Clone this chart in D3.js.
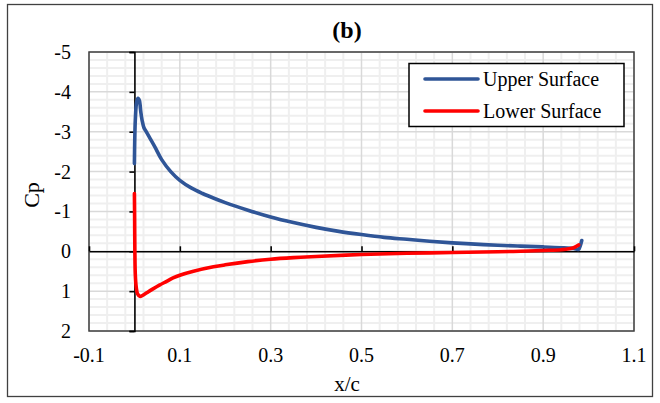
<!DOCTYPE html>
<html>
<head>
<meta charset="utf-8">
<script src="https://cdn.jsdelivr.net/npm/d3@7"></script>
<style>
  html, body { margin: 0; padding: 0; background: #fff; }
  svg { display: block; font-family: "Liberation Serif", "Times New Roman", serif; }
</style>
</head>
<body>
<svg id="chart" width="660" height="403"></svg>
<script>
// Pressure coefficient along the airfoil chord
const upperX  = [0, 0.002, 0.005, 0.008, 0.011, 0.014, 0.017, 0.021, 0.026, 0.035, 0.045, 0.06, 0.08, 0.1, 0.125, 0.15, 0.175, 0.2, 0.25, 0.3, 0.35, 0.4, 0.45, 0.5, 0.55, 0.6, 0.65, 0.7, 0.75, 0.8, 0.85, 0.9, 0.94, 0.967, 0.978, 0.982, 0.985];
const upperCp = [-2.2, -3.3, -3.75, -3.84, -3.78, -3.5, -3.28, -3.1, -3.0, -2.82, -2.62, -2.3, -2.0, -1.78, -1.59, -1.45, -1.33, -1.22, -1.03, -0.86, -0.72, -0.6, -0.5, -0.42, -0.35, -0.3, -0.25, -0.21, -0.18, -0.15, -0.13, -0.11, -0.09, -0.07, -0.05, -0.15, -0.27];

const lowerX  = [0, 0.0005, 0.001, 0.002, 0.004, 0.007, 0.012, 0.016, 0.022, 0.03, 0.04, 0.055, 0.07, 0.085, 0.1, 0.13, 0.174, 0.2, 0.25, 0.3, 0.35, 0.4, 0.5, 0.6, 0.7, 0.8, 0.85, 0.9, 0.94, 0.967, 0.978];
const lowerCp = [-1.45, -0.8, 0, 0.6, 0.9, 1.07, 1.13, 1.12, 1.08, 1.02, 0.95, 0.85, 0.76, 0.67, 0.6, 0.5, 0.39, 0.34, 0.26, 0.2, 0.16, 0.13, 0.08, 0.05, 0.03, 0.01, 0.0, -0.02, -0.04, -0.09, -0.16];

const xTicks = [-0.1, 0.1, 0.3, 0.5, 0.7, 0.9, 1.1];
const yTicks = [-5, -4, -3, -2, -1, 0, 1, 2];
const seriesNames = ["Upper Surface", "Lower Surface"];
const seriesColors = ["#2F5597", "#FF0000"];

const svg = d3.select("#chart");
const plot = { left: 89, top: 52, right: 634, bottom: 331 };

const x = d3.scaleLinear().domain([-0.1, 1.1]).range([plot.left, plot.right]);
const y = d3.scaleLinear().domain([-5, 2]).range([plot.top, plot.bottom]);

// outer frame
svg.append("rect")
  .attr("x", 7.5).attr("y", 4.5).attr("width", 645).attr("height", 392)
  .attr("fill", "#fff").attr("stroke", "#404040").attr("stroke-width", 1.3);

// minor gridlines
const minorX = d3.range(-0.1, 1.1001, 0.04).filter(v => Math.abs(((v + 0.1) / 0.2) - Math.round((v + 0.1) / 0.2)) > 1e-6);
const minorY = d3.range(-5, 2.0001, 0.2).filter(v => Math.abs(v - Math.round(v)) > 1e-6);
const grid = svg.append("g");
grid.selectAll(".mx").data(minorX).join("line")
  .attr("x1", d => x(d)).attr("x2", d => x(d)).attr("y1", plot.top).attr("y2", plot.bottom)
  .attr("stroke", "#efefef").attr("stroke-width", 2);
grid.selectAll(".my").data(minorY).join("line")
  .attr("y1", d => y(d)).attr("y2", d => y(d)).attr("x1", plot.left).attr("x2", plot.right)
  .attr("stroke", "#efefef").attr("stroke-width", 2);
// major gridlines
grid.selectAll(".Mx").data(xTicks).join("line")
  .attr("x1", d => x(d)).attr("x2", d => x(d)).attr("y1", plot.top).attr("y2", plot.bottom)
  .attr("stroke", "#d9d9d9").attr("stroke-width", 1.5);
grid.selectAll(".My").data(yTicks).join("line")
  .attr("y1", d => y(d)).attr("y2", d => y(d)).attr("x1", plot.left).attr("x2", plot.right)
  .attr("stroke", "#d9d9d9").attr("stroke-width", 1.5);

// plot area border
svg.append("rect")
  .attr("x", plot.left).attr("y", plot.top)
  .attr("width", plot.right - plot.left).attr("height", plot.bottom - plot.top)
  .attr("fill", "none").attr("stroke", "#404040").attr("stroke-width", 1.5);

// axes crossing at the origin
const yAxis = d3.axisLeft(y).tickValues(yTicks).tickSize(5).tickFormat("");
svg.append("g").attr("transform", `translate(${x(0)},0)`).call(yAxis)
  .call(g => g.selectAll("line, path").attr("stroke", "#000").attr("stroke-width", 1.6));
const xAxis = d3.axisTop(x).tickValues(xTicks).tickSize(5).tickSizeOuter(0).tickFormat("");
svg.append("g").attr("transform", `translate(0,${y(0)})`).call(xAxis)
  .call(g => g.selectAll("line, path").attr("stroke", "#000").attr("stroke-width", 1.6));

// tick labels at the plot edges
svg.append("g").selectAll("text").data(yTicks).join("text")
  .attr("x", 71).attr("y", d => y(d)).attr("dy", "0.35em")
  .attr("text-anchor", "end").attr("font-size", 20).attr("fill", "#000")
  .text(d => d);
svg.append("g").selectAll("text").data(xTicks).join("text")
  .attr("x", d => x(d)).attr("y", 362)
  .attr("text-anchor", "middle").attr("font-size", 20).attr("fill", "#000")
  .text(d => d3.format(".1f")(d).replace("−", "-"));

// titles
svg.append("text").attr("x", 347).attr("y", 38).attr("text-anchor", "middle")
  .attr("font-size", 24).attr("font-weight", "bold").text("(b)");
svg.append("text").attr("x", 347).attr("y", 391).attr("text-anchor", "middle")
  .attr("font-size", 21).text("x/c");
svg.append("text").attr("transform", "translate(39,195) rotate(-90)").attr("text-anchor", "middle")
  .attr("font-size", 22).text("Cp");

// series
const line = d3.line().x(d => x(d[0])).y(d => y(d[1])).curve(d3.curveCatmullRom.alpha(0.5));
const upper = upperX.map((v, i) => [v, upperCp[i]]);
const lower = lowerX.map((v, i) => [v, lowerCp[i]]);
[upper, lower].forEach((pts, i) => {
  svg.append("path").datum(pts).attr("d", line)
    .attr("fill", "none").attr("stroke", seriesColors[i]).attr("stroke-width", 3.6)
    .attr("stroke-linejoin", "round").attr("stroke-linecap", "round");
});

// legend
const lg = svg.append("g");
lg.append("rect").attr("x", 409).attr("y", 63.5).attr("width", 215).attr("height", 63)
  .attr("fill", "#fff").attr("stroke", "#000").attr("stroke-width", 1.5);
seriesNames.forEach((name, i) => {
  const cy = 79 + i * 32;
  lg.append("line").attr("x1", 425).attr("x2", 478).attr("y1", cy).attr("y2", cy)
    .attr("stroke", seriesColors[i]).attr("stroke-width", 3.6).attr("stroke-linecap", "round");
  lg.append("text").attr("x", 483).attr("y", cy).attr("dy", "0.35em")
    .attr("font-size", 20).attr("fill", "#000").text(name);
});
</script>
</body>
</html>
